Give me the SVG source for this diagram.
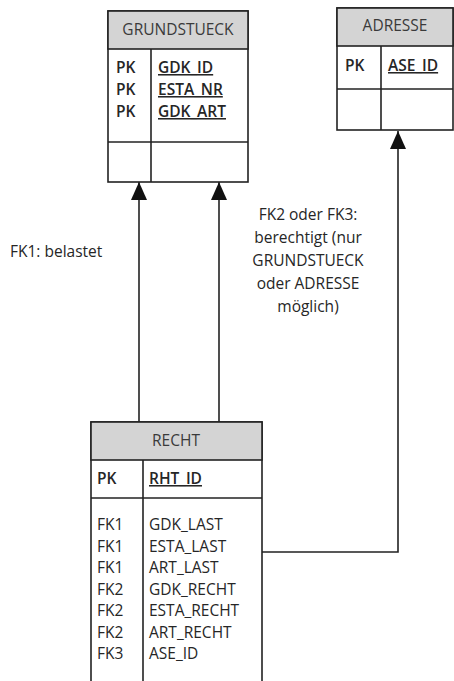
<svg xmlns="http://www.w3.org/2000/svg" width="454" height="681" viewBox="0 0 454 681">
<style>
.box{fill:#fff;stroke:#222;stroke-width:1.6}
.hdr{fill:#d4d4d4;stroke:#222;stroke-width:1.6}
.ln{stroke:#222;stroke-width:1.6;fill:none}
text{font-family:"Open Sans","Liberation Sans",sans-serif;font-size:15.5px;fill:#262626}
.h{text-anchor:middle;fill:#3a3a3a}
.u{text-decoration:underline}
.b{font-weight:600}
.c{text-anchor:middle}
</style>
<defs>
<marker id="arr" viewBox="0 0 18 16" refX="18" refY="8" markerWidth="18" markerHeight="16" markerUnits="userSpaceOnUse" orient="auto">
<path d="M0,0 L18,8 L0,16 Z" fill="#111"/>
</marker>
</defs>
<g id="connectors">
<line class="ln" x1="139" y1="422" x2="139" y2="182" marker-end="url(#arr)"/>
<line class="ln" x1="219" y1="422" x2="219" y2="182" marker-end="url(#arr)"/>
<polyline class="ln" points="262,552 398,552 398,131" marker-end="url(#arr)"/>
</g>
<g id="GRUNDSTUECK">
<rect class="box" x="108" y="11" width="140" height="171"/>
<rect class="hdr" x="108" y="11" width="140" height="38"/>
<line class="ln" x1="151" y1="49" x2="151" y2="182"/>
<line class="ln" x1="108" y1="142" x2="248" y2="142"/>
<text class="h" x="178" y="35">GRUNDSTUECK</text>
<text class="b" x="116" y="73">PK</text><text class="u b" x="158" y="73">GDK_ID</text>
<text class="b" x="116" y="95">PK</text><text class="u b" x="158" y="95">ESTA_NR</text>
<text class="b" x="116" y="117">PK</text><text class="u b" x="158" y="117">GDK_ART</text>
</g>
<g id="ADRESSE">
<rect class="box" x="337" y="8" width="116" height="122"/>
<rect class="hdr" x="337" y="8" width="116" height="38"/>
<line class="ln" x1="381" y1="46" x2="381" y2="130"/>
<line class="ln" x1="337" y1="89" x2="453" y2="89"/>
<text class="h" x="395" y="31">ADRESSE</text>
<text class="b" x="345" y="71">PK</text><text class="u b" x="388" y="71">ASE_ID</text>
</g>
<g id="RECHT">
<rect class="box" x="91" y="422" width="171" height="280"/>
<rect class="hdr" x="91" y="422" width="171" height="38"/>
<line class="ln" x1="143" y1="460" x2="143" y2="690"/>
<line class="ln" x1="91" y1="498" x2="262" y2="498"/>
<text class="h" x="176" y="446">RECHT</text>
<text class="b" x="97" y="484">PK</text><text class="u b" x="149" y="484">RHT_ID</text>
<text x="97" y="530">FK1</text><text x="149" y="530">GDK_LAST</text>
<text x="97" y="552">FK1</text><text x="149" y="552">ESTA_LAST</text>
<text x="97" y="573">FK1</text><text x="149" y="573">ART_LAST</text>
<text x="97" y="595">FK2</text><text x="149" y="595">GDK_RECHT</text>
<text x="97" y="616">FK2</text><text x="149" y="616">ESTA_RECHT</text>
<text x="97" y="638">FK2</text><text x="149" y="638">ART_RECHT</text>
<text x="97" y="659">FK3</text><text x="149" y="659">ASE_ID</text>
</g>
<g id="labels">
<text x="10" y="257">FK1: belastet</text>
<text class="c" x="308" y="220">FK2 oder FK3:</text>
<text class="c" x="308" y="243">berechtigt (nur</text>
<text class="c" x="308" y="266">GRUNDSTUECK</text>
<text class="c" x="308" y="289">oder ADRESSE</text>
<text class="c" x="308" y="312">möglich)</text>
</g>
</svg>
